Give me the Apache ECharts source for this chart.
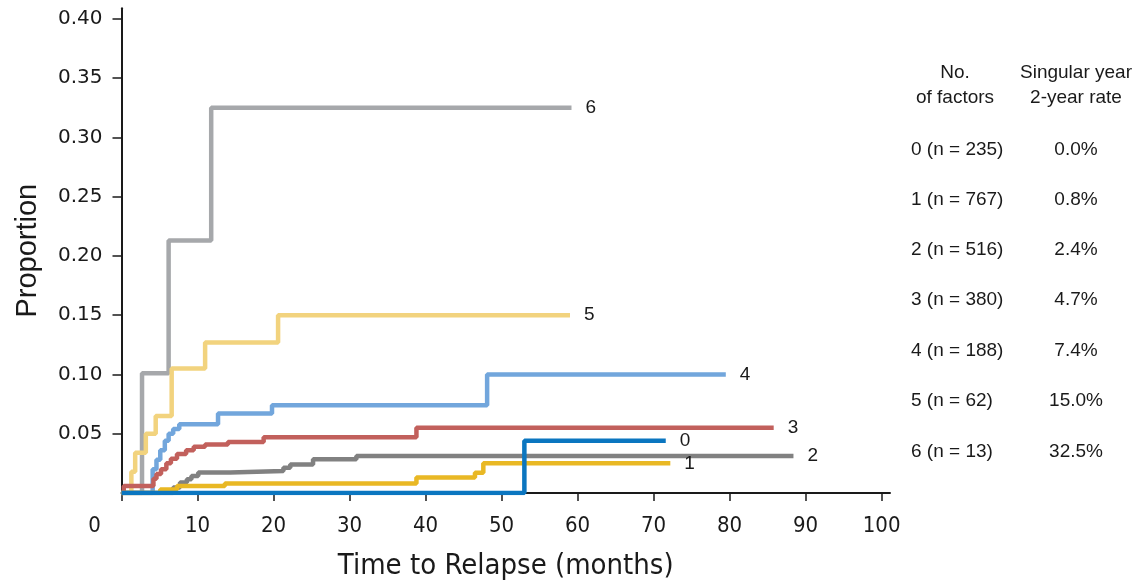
<!DOCTYPE html>
<html>
<head>
<meta charset="utf-8">
<script src="https://cdn.jsdelivr.net/npm/echarts@6/dist/echarts.min.js"></script>
<style>
  html, body { margin: 0; padding: 0; background: #ffffff; }
  #chart { width: 1143px; height: 586px; }
</style>
</head>
<body>
<div id="chart"></div>
<script>
// Cumulative incidence of relapse by number of risk factors.
// For each group: months at which the curve steps up, the proportion reached at that step,
// and the last month of follow-up drawn.
const factorLabels = ['0', '1', '2', '3', '4', '5', '6'];
const groupSizes = [235, 767, 516, 380, 188, 62, 13];
const twoYearRates = ['0.0%', '0.8%', '2.4%', '4.7%', '7.4%', '15.0%', '32.5%'];

const times0 = [53.0];
const values0 = [0.044];
const end0 = 71.6;

const times1 = [5.1, 7.3, 13.6, 38.8, 46.5, 47.6];
const values1 = [0.003, 0.006, 0.008, 0.013, 0.017, 0.025];
const end1 = 72.2;

const times2 = [6.8, 7.7, 8.6, 9.2, 10.1, 14.3, 21.3, 22.2, 25.2, 30.9];
const values2 = [0.0046, 0.0088, 0.0116, 0.0144, 0.0172, 0.0186, 0.0214, 0.024, 0.0284, 0.0312];
const end2 = 88.4;

const times3 = [0.3, 4.2, 4.6, 5.2, 5.9, 6.5, 7.3, 8.5, 9.5, 11.0, 14.0, 18.7, 38.8];
const values3 = [0.006, 0.012, 0.016, 0.020, 0.025, 0.029, 0.033, 0.036, 0.039, 0.041, 0.043, 0.047, 0.055];
const end3 = 85.8;

const times4 = [4.1, 4.6, 5.1, 5.7, 6.2, 6.8, 7.6, 12.7, 19.8, 48.1];
const values4 = [0.020, 0.028, 0.036, 0.044, 0.050, 0.054, 0.058, 0.067, 0.074, 0.100];
const end4 = 79.5;

const times5 = [1.3, 1.8, 3.2, 4.5, 6.6, 11.0, 20.6];
const values5 = [0.018, 0.034, 0.050, 0.065, 0.105, 0.127, 0.150];
const end5 = 59.0;

const times6 = [2.7, 6.2, 11.8];
const values6 = [0.101, 0.213, 0.325];
const end6 = 59.2;

// Axis ticks
const xTickValues = [0, 10, 20, 30, 40, 50, 60, 70, 80, 90, 100];
const yTickValues = [0.05, 0.10, 0.15, 0.20, 0.25, 0.30, 0.35, 0.40];

const groupTimes = [times0, times1, times2, times3, times4, times5, times6];
const groupValues = [values0, values1, values2, values3, values4, values5, values6];
const groupEnds = [end0, end1, end2, end3, end4, end5, end6];

const lineColors = ['#0b76c0', '#e9b824', '#818181', '#c2605c', '#72a6dc', '#f2d37e', '#a6a8ab'];
const textColor = '#1a1a1a';
const sansFont = '"Liberation Sans", Arial, sans-serif';
const narrowFont = '"Liberation Sans Narrow", "DejaVu Sans Condensed", "Liberation Sans", sans-serif';

// Step curve starting at the origin, holding the last value until the end of follow-up.
function stepPoints(times, values, endTime) {
  const pts = [[0, 0]];
  times.forEach((t, i) => pts.push([t, values[i]]));
  pts.push([endTime, values[values.length - 1]]);
  return pts;
}

// Draw the highest-risk curves first so the low curves sit on top near the baseline.
const drawOrder = [6, 5, 4, 3, 2, 1, 0];
const series = drawOrder.map(g => ({
  name: factorLabels[g],
  type: 'line',
  step: 'end',
  showSymbol: false,
  symbol: 'none',
  data: stepPoints(groupTimes[g], groupValues[g], groupEnds[g]),
  lineStyle: { color: lineColors[g], width: 4.5 },
  itemStyle: { color: lineColors[g] },
  endLabel: {
    show: true,
    formatter: p => p.seriesName,
    distance: 14,
    color: textColor,
    fontSize: 19,
    fontFamily: sansFont
  },
  emphasis: { disabled: true }
}));

// Table of group sizes and 2-year rates at the right.
const tableFont = '19px ' + sansFont;
function tableText(text, x, y, align) {
  return {
    type: 'text', x: x, y: y, silent: true,
    style: {
      text: text, fill: textColor, font: tableFont,
      align: align, verticalAlign: 'middle',
      textAlign: align, textVerticalAlign: 'middle'
    }
  };
}
const graphics = [
  tableText('No.', 955, 73, 'center'),
  tableText('of factors', 955, 98, 'center'),
  tableText('Singular year', 1076, 73, 'center'),
  tableText('2-year rate', 1076, 98, 'center')
];
const rowY = [150, 200, 250, 300, 351, 401, 452];
factorLabels.forEach((f, i) => {
  graphics.push(tableText(f + ' (n = ' + groupSizes[i] + ')', 911, rowY[i], 'left'));
  graphics.push(tableText(twoYearRates[i], 1076, rowY[i], 'center'));
});

const chart = echarts.init(document.getElementById('chart'), null, { renderer: 'canvas' });
chart.setOption({
  animation: false,
  backgroundColor: '#ffffff',
  grid: { left: 121.5, right: 253, top: 8.3, bottom: 90.5, containLabel: false },
  xAxis: {
    type: 'value',
    min: 0, max: 101.1,
    offset: 2,
    z: 3,
    name: 'Time to Relapse (months)',
    nameLocation: 'middle',
    nameGap: 57,
    nameTextStyle: { color: textColor, fontSize: 29, fontFamily: narrowFont },
    axisLine: { show: true, lineStyle: { color: '#1a1a1a', width: 2 } },
    axisTick: {
      show: true, inside: false, length: 8, customValues: xTickValues,
      lineStyle: { color: '#1a1a1a', width: 1.5 }
    },
    axisLabel: {
      margin: 20,
      customValues: xTickValues,
      color: textColor,
      fontSize: 22,
      fontFamily: narrowFont,
      formatter: v => (v === 0 ? '{o|0}' : String(v)),
      rich: {
        o: { padding: [0, 54, 0, 0], fontSize: 22, color: textColor, fontFamily: narrowFont }
      }
    },
    splitLine: { show: false }
  },
  yAxis: {
    type: 'value',
    min: 0, max: 0.409,
    name: 'Proportion',
    nameLocation: 'middle',
    nameGap: 79,
    nameTextStyle: { color: textColor, fontSize: 29, fontFamily: sansFont },
    axisLine: { show: true, lineStyle: { color: '#1a1a1a', width: 2 } },
    axisTick: {
      show: true, inside: false, length: 9, customValues: yTickValues,
      lineStyle: { color: '#1a1a1a', width: 1.5 }
    },
    axisLabel: {
      margin: 19,
      customValues: yTickValues,
      color: textColor,
      fontSize: 20,
      fontFamily: '"DejaVu Sans", sans-serif',
      formatter: v => v.toFixed(2)
    },
    splitLine: { show: false }
  },
  series: series,
  graphic: graphics
});
</script>
</body>
</html>
